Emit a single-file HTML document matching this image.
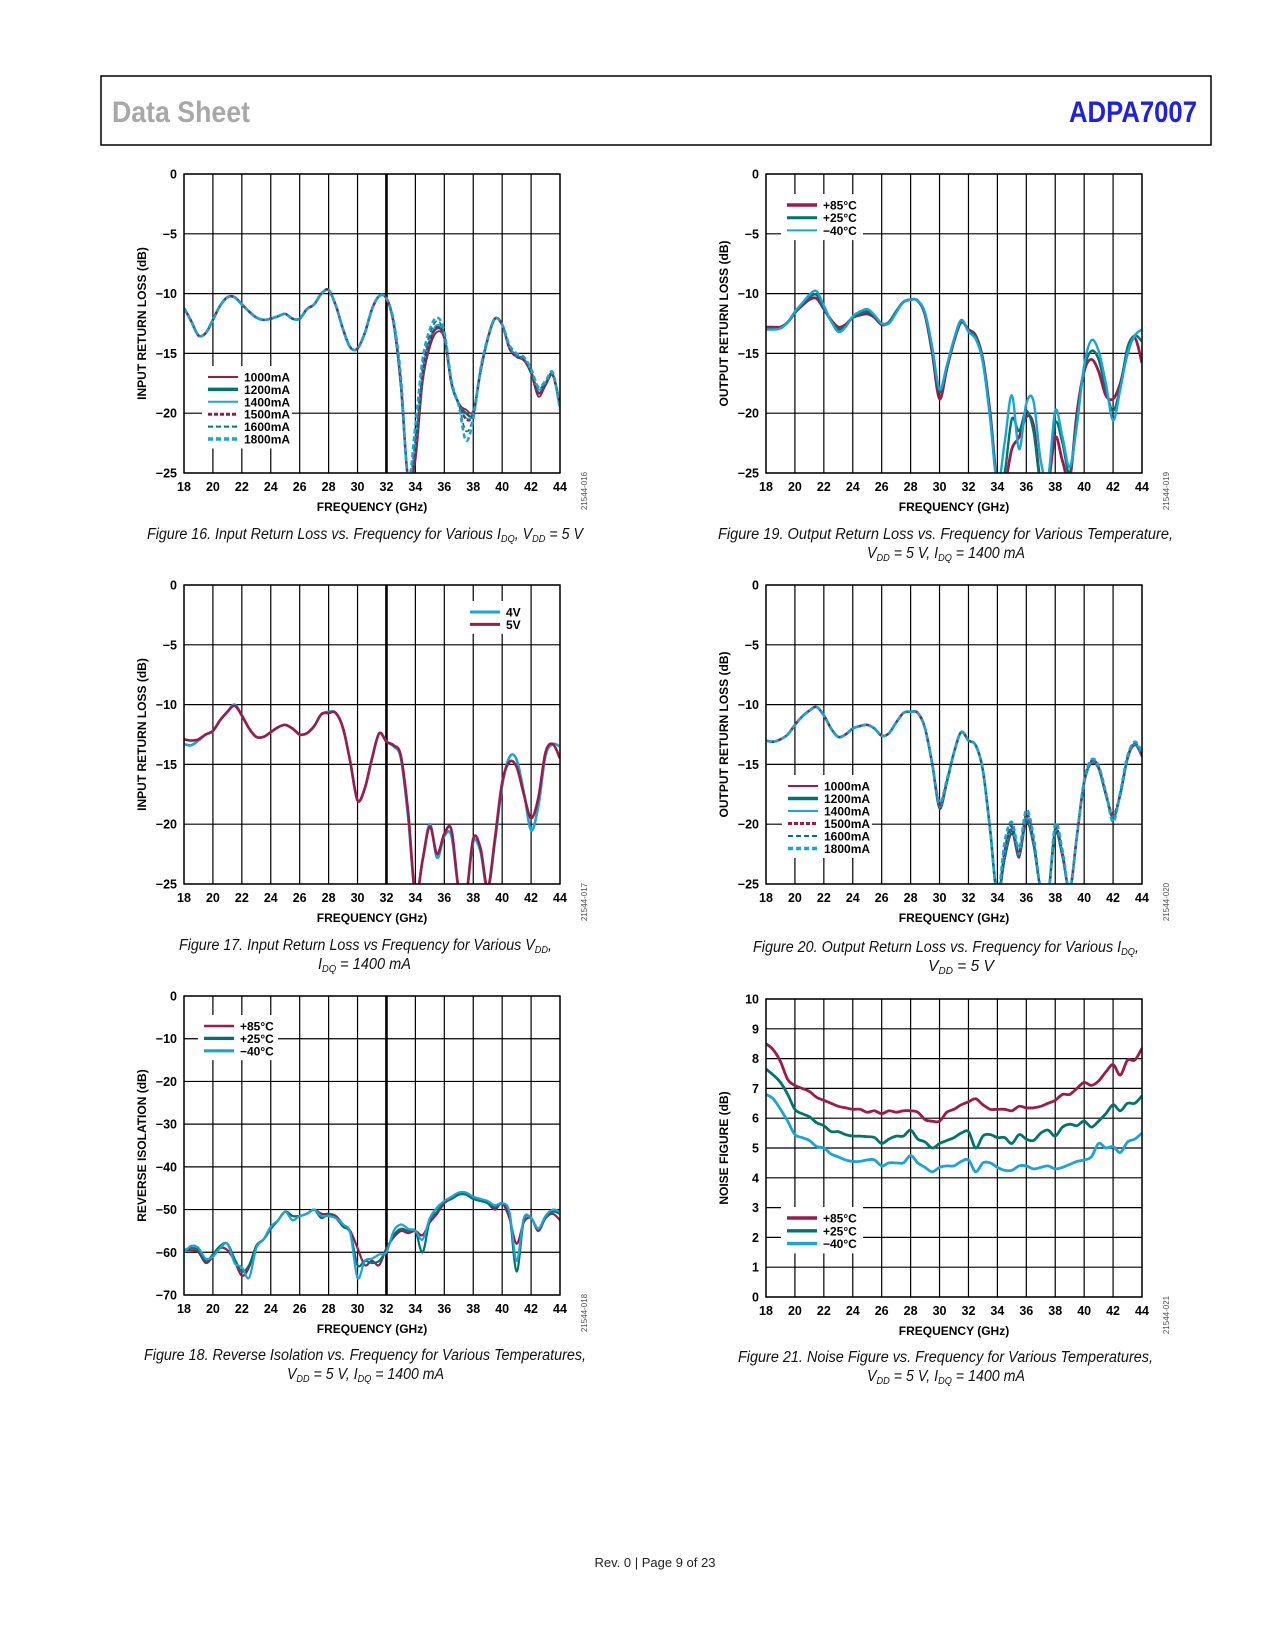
<!DOCTYPE html>
<html><head><meta charset="utf-8">
<style>
html,body{margin:0;padding:0;background:#fff;}
svg{display:block;font-family:"Liberation Sans",Arial,sans-serif;}
.tk{font-size:12.5px;font-weight:bold;fill:#000;}
.ax{font-size:12px;font-weight:bold;fill:#000;}
.lg{font-size:12px;font-weight:bold;fill:#000;}
.cap{font-size:15.5px;font-style:italic;fill:#111;}
.id{font-size:8px;fill:#555;}
</style></head>
<body>
<svg id="page" width="1275" height="1650" viewBox="0 0 1275 1650" xmlns="http://www.w3.org/2000/svg">
<rect x="101" y="76" width="1110" height="69" fill="none" stroke="#000" stroke-width="1.5"/>
<text x="112" y="122" font-size="30" font-weight="bold" fill="#a8a8a8" textLength="138" lengthAdjust="spacingAndGlyphs">Data Sheet</text>
<text x="1069" y="122" font-size="30" font-weight="bold" fill="#2020e0" textLength="128" lengthAdjust="spacingAndGlyphs">ADPA7007</text>
<text x="655" y="1567" font-size="13" text-anchor="middle" fill="#222">Rev. 0 | Page 9 of 23</text>

<text class="cap" x="147" y="539" textLength="436" lengthAdjust="spacingAndGlyphs">Figure 16. Input Return Loss vs. Frequency for Various I<tspan font-size="10" dy="3">DQ</tspan><tspan dy="-3">, V</tspan><tspan font-size="10" dy="3">DD</tspan><tspan dy="-3"> = 5 V</tspan></text>
<text class="cap" x="179" y="950" textLength="373" lengthAdjust="spacingAndGlyphs">Figure 17. Input Return Loss vs Frequency for Various V<tspan font-size="10" dy="3">DD</tspan><tspan dy="-3">,</tspan></text>
<text class="cap" x="318" y="969" textLength="93" lengthAdjust="spacingAndGlyphs">I<tspan font-size="10" dy="3">DQ</tspan><tspan dy="-3"> = 1400 mA</tspan></text>
<text class="cap" x="144" y="1360" textLength="442" lengthAdjust="spacingAndGlyphs">Figure 18. Reverse Isolation vs. Frequency for Various Temperatures,</text>
<text class="cap" x="287" y="1379" textLength="157" lengthAdjust="spacingAndGlyphs">V<tspan font-size="10" dy="3">DD</tspan><tspan dy="-3"> = 5 V, I</tspan><tspan font-size="10" dy="3">DQ</tspan><tspan dy="-3"> = 1400 mA</tspan></text>
<text class="cap" x="718" y="539" textLength="455" lengthAdjust="spacingAndGlyphs">Figure 19. Output Return Loss vs. Frequency for Various Temperature,</text>
<text class="cap" x="867" y="558" textLength="158" lengthAdjust="spacingAndGlyphs">V<tspan font-size="10" dy="3">DD</tspan><tspan dy="-3"> = 5 V, I</tspan><tspan font-size="10" dy="3">DQ</tspan><tspan dy="-3"> = 1400 mA</tspan></text>
<text class="cap" x="753" y="952" textLength="386" lengthAdjust="spacingAndGlyphs">Figure 20. Output Return Loss vs. Frequency for Various I<tspan font-size="10" dy="3">DQ</tspan><tspan dy="-3">,</tspan></text>
<text class="cap" x="961" y="971" text-anchor="middle">V<tspan font-size="10" dy="3">DD</tspan><tspan dy="-3"> = 5 V</tspan></text>
<text class="cap" x="738" y="1362" textLength="415" lengthAdjust="spacingAndGlyphs">Figure 21. Noise Figure vs. Frequency for Various Temperatures,</text>
<text class="cap" x="867" y="1381" textLength="158" lengthAdjust="spacingAndGlyphs">V<tspan font-size="10" dy="3">DD</tspan><tspan dy="-3"> = 5 V, I</tspan><tspan font-size="10" dy="3">DQ</tspan><tspan dy="-3"> = 1400 mA</tspan></text>
</svg>
<script>
const freqGHz = [18,18.5,19,19.5,20,20.5,21,21.5,22,22.5,23,23.5,24,24.5,25,25.5,26,26.5,27,27.5,28,28.5,29,29.5,30,30.5,31,31.5,32,32.5,33,33.5,34,34.5,35,35.5,36,36.5,37,37.5,38,38.5,39,39.5,40,40.5,41,41.5,42,42.5,43,43.5,44];
const xTickLabels = [18,20,22,24,26,28,30,32,34,36,38,40,42,44];

// Figure 16: input return loss vs IDQ
const inRL_1000mA = [-11.2,-12.3,-13.5,-13.3,-12.2,-11.0,-10.3,-10.3,-10.9,-11.5,-12.0,-12.2,-12.1,-11.9,-11.7,-12.1,-12.1,-11.3,-10.9,-10.0,-9.7,-11.0,-13.0,-14.5,-14.6,-13.3,-11.3,-10.2,-10.4,-12.6,-17.8,-25.5,-24.0,-17.5,-14.5,-13.2,-13.8,-17.6,-19.2,-19.7,-19.8,-16.6,-13.8,-12.1,-12.6,-14.6,-15.3,-15.6,-16.7,-18.6,-17.7,-16.8,-19.3];
const inRL_1200mA = [-11.2,-12.3,-13.5,-13.3,-12.2,-11.0,-10.3,-10.3,-10.9,-11.5,-12.0,-12.2,-12.1,-11.9,-11.7,-12.1,-12.1,-11.3,-10.9,-10.0,-9.7,-11.0,-13.0,-14.5,-14.6,-13.3,-11.3,-10.2,-10.4,-12.5,-17.6,-25.5,-23.0,-17.0,-14.0,-12.9,-13.6,-17.5,-19.2,-20.0,-20.0,-16.5,-13.8,-12.1,-12.6,-14.5,-15.2,-15.5,-16.6,-18.3,-17.6,-16.8,-19.4];
const inRL_1400mA = [-11.2,-12.3,-13.5,-13.3,-12.2,-11.0,-10.3,-10.3,-10.9,-11.5,-12.0,-12.2,-12.1,-11.9,-11.7,-12.1,-12.1,-11.3,-10.9,-10.0,-9.7,-11.0,-13.0,-14.5,-14.6,-13.3,-11.3,-10.2,-10.4,-12.5,-17.5,-25.5,-22.5,-16.5,-13.8,-12.6,-13.5,-17.5,-19.2,-20.4,-20.0,-16.5,-13.8,-12.1,-12.6,-14.5,-15.2,-15.5,-16.5,-18.0,-17.5,-16.8,-19.5];
const inRL_1500mA = [-11.2,-12.3,-13.5,-13.3,-12.2,-11.0,-10.3,-10.3,-10.9,-11.5,-12.0,-12.2,-12.1,-11.9,-11.7,-12.1,-12.1,-11.3,-10.9,-10.0,-9.7,-11.0,-13.0,-14.5,-14.6,-13.3,-11.3,-10.2,-10.4,-12.5,-17.5,-25.5,-23.5,-16.8,-14.0,-12.8,-13.6,-17.5,-19.2,-20.5,-20.1,-16.5,-13.8,-12.1,-12.6,-14.6,-15.3,-15.5,-16.6,-18.4,-17.6,-16.8,-19.4];
const inRL_1600mA = [-11.2,-12.3,-13.5,-13.3,-12.2,-11.0,-10.3,-10.3,-10.9,-11.5,-12.0,-12.2,-12.1,-11.9,-11.7,-12.1,-12.1,-11.3,-10.9,-10.0,-9.7,-11.0,-13.0,-14.5,-14.6,-13.3,-11.3,-10.2,-10.4,-12.4,-17.3,-25.5,-22.0,-16.0,-13.4,-12.3,-13.4,-17.4,-19.3,-21.5,-20.3,-16.4,-13.8,-12.1,-12.6,-14.4,-15.1,-15.4,-16.4,-17.9,-17.4,-16.7,-19.6];
const inRL_1800mA = [-11.2,-12.3,-13.5,-13.3,-12.2,-11.0,-10.3,-10.3,-10.9,-11.5,-12.0,-12.2,-12.1,-11.9,-11.7,-12.1,-12.1,-11.3,-10.9,-10.0,-9.7,-11.0,-13.0,-14.5,-14.6,-13.3,-11.3,-10.2,-10.4,-12.3,-17.0,-25.5,-21.0,-15.5,-13.0,-12.0,-13.2,-17.3,-19.4,-22.3,-20.5,-16.3,-13.7,-12.1,-12.6,-14.3,-15.0,-15.3,-16.3,-17.8,-17.3,-16.6,-19.7];

// Figure 17: input return loss vs VDD
const inRL_4V = [-13.3,-13.4,-13.0,-12.5,-12.2,-11.3,-10.6,-10.0,-10.9,-12.0,-12.7,-12.7,-12.3,-11.9,-11.7,-12.0,-12.5,-12.4,-11.8,-10.8,-10.6,-10.7,-12.0,-14.8,-18.0,-17.0,-14.5,-12.4,-13.1,-13.5,-14.5,-19.5,-26.0,-23.0,-20.0,-22.8,-21.0,-21.0,-25.5,-26.0,-21.5,-22.3,-25.5,-21.5,-16.8,-14.4,-14.6,-17.3,-20.5,-18.5,-14.3,-13.3,-13.5];
const inRL_5V = [-12.9,-13.0,-12.9,-12.5,-12.2,-11.3,-10.6,-10.1,-10.9,-12.0,-12.7,-12.7,-12.3,-11.9,-11.7,-12.0,-12.5,-12.4,-11.8,-10.8,-10.7,-10.7,-12.0,-14.8,-18.0,-17.0,-14.5,-12.4,-13.1,-13.4,-14.3,-19.0,-26.0,-23.0,-20.2,-22.5,-20.8,-20.5,-25.5,-26.0,-21.2,-22.0,-25.3,-21.2,-16.5,-14.8,-15.2,-17.5,-19.5,-17.8,-14.0,-13.3,-14.5];

// Figure 18: reverse isolation vs temperature
const revIso_p85 = [-59.5,-59.5,-60,-62.5,-61,-59,-59.5,-62,-65.5,-63.5,-58.5,-57,-54.5,-52.5,-50.5,-51.5,-51.5,-51,-50,-51,-51,-51.5,-53.5,-55,-59,-63,-62,-63,-59,-56.5,-55,-55.5,-55,-56,-53,-51,-48.5,-47.5,-46.5,-46.5,-47.5,-47.5,-48.5,-50,-48.5,-52,-58,-53,-52,-55,-52,-51,-52.5];
const revIso_p25 = [-59.5,-59,-59.5,-62,-60.5,-58.5,-58,-61.5,-64.5,-63,-58.5,-57,-54.5,-52.5,-50.5,-51.5,-51.5,-51,-50,-52,-51,-52,-54,-55.5,-63,-62,-62.5,-62,-59.5,-56,-54.5,-55,-55,-60,-52.5,-50.5,-48,-47.5,-46.5,-46.5,-47.5,-48,-48.5,-49.5,-48.5,-51,-64.5,-52.5,-52,-54.5,-52,-50.5,-51];
const revIso_m40 = [-60,-58.5,-59,-61.5,-61,-59,-58,-62.5,-63.5,-66,-59,-57,-54,-52.5,-50.5,-52.5,-51.5,-51,-50,-51.5,-51.5,-52,-53.5,-55.5,-66,-62,-61.5,-60.5,-60,-55,-53.5,-54.5,-55,-57,-52,-49.5,-48,-47,-46,-46,-47,-47.5,-48,-49,-48.5,-50.5,-62,-52,-52,-54.5,-51.5,-50,-50.5];

// Figure 19: output return loss vs temperature
const outRL_p85 = [-12.8,-12.8,-12.8,-12.4,-11.6,-11.0,-10.5,-10.4,-11.3,-12.2,-12.8,-12.6,-12.0,-11.8,-11.7,-12.0,-12.6,-12.4,-11.5,-10.7,-10.5,-10.6,-11.8,-15.0,-18.8,-16.3,-14.0,-12.4,-13.0,-13.5,-15.5,-20.0,-26.0,-26.0,-23.0,-22.0,-20.3,-21.0,-26.0,-26.0,-22.0,-24.0,-25.5,-20.0,-16.5,-15.5,-16.5,-18.5,-18.8,-17.5,-15.0,-13.7,-15.8];
const outRL_p25 = [-12.9,-12.9,-12.9,-12.4,-11.6,-10.9,-10.3,-10.1,-11.2,-12.3,-13.0,-12.7,-12.0,-11.7,-11.5,-11.9,-12.5,-12.4,-11.5,-10.7,-10.5,-10.6,-11.7,-14.7,-18.2,-16.1,-13.9,-12.3,-13.1,-13.6,-15.6,-20.2,-26.0,-25.0,-20.5,-21.5,-19.8,-21.5,-26.0,-25.5,-20.8,-22.5,-25.0,-20.5,-16.3,-14.8,-15.5,-18.0,-19.8,-17.8,-14.5,-13.5,-14.0];
const outRL_m40 = [-13.0,-13.0,-12.9,-12.4,-11.5,-10.8,-10.1,-9.8,-11.0,-12.3,-13.2,-12.8,-11.9,-11.5,-11.3,-11.8,-12.5,-12.5,-11.6,-10.7,-10.5,-10.6,-11.6,-14.5,-18.0,-16.0,-13.8,-12.2,-13.2,-13.8,-15.8,-20.5,-26.0,-22.5,-18.5,-23.0,-19.2,-19.0,-24.0,-25.5,-19.8,-22.0,-24.5,-21.0,-16.0,-13.9,-14.8,-17.5,-20.6,-18.0,-15.0,-13.5,-13.0];

// Figure 20: output return loss vs IDQ
const outRL_1000mA = [-13.0,-13.1,-12.9,-12.5,-11.7,-11.0,-10.5,-10.2,-10.9,-12.0,-12.7,-12.5,-12.0,-11.8,-11.7,-12.0,-12.6,-12.4,-11.5,-10.7,-10.6,-10.7,-12.0,-15.0,-18.7,-16.6,-14.0,-12.3,-13.0,-13.4,-15.5,-20.5,-26.0,-23.0,-20.8,-22.8,-19.8,-21.8,-25.5,-26.0,-20.8,-22.8,-25.5,-21.0,-16.6,-14.9,-15.4,-17.6,-19.5,-17.6,-14.6,-13.4,-14.4];
const outRL_1200mA = [-13.0,-13.1,-12.9,-12.5,-11.7,-11.0,-10.5,-10.2,-10.9,-12.0,-12.7,-12.5,-12.0,-11.8,-11.7,-12.0,-12.6,-12.4,-11.5,-10.7,-10.6,-10.7,-12.0,-15.0,-18.6,-16.5,-14.0,-12.3,-13.0,-13.4,-15.5,-20.5,-26.0,-22.8,-20.5,-22.6,-19.6,-21.6,-25.5,-26.0,-20.6,-22.6,-25.5,-21.0,-16.5,-14.8,-15.3,-17.5,-19.4,-17.5,-14.5,-13.3,-14.3];
const outRL_1400mA = [-13.0,-13.1,-12.9,-12.5,-11.7,-11.0,-10.5,-10.2,-10.9,-12.0,-12.7,-12.5,-12.0,-11.8,-11.7,-12.0,-12.6,-12.4,-11.5,-10.7,-10.6,-10.7,-12.0,-15.0,-18.5,-16.5,-14.0,-12.3,-13.0,-13.4,-15.5,-20.5,-26.0,-22.5,-20.3,-22.5,-19.5,-21.5,-25.5,-26.0,-20.5,-22.5,-25.5,-21.0,-16.5,-14.8,-15.3,-17.5,-19.3,-17.5,-14.5,-13.3,-14.3];
const outRL_1500mA = [-13.0,-13.1,-12.9,-12.5,-11.7,-11.0,-10.5,-10.2,-10.9,-12.0,-12.7,-12.5,-12.0,-11.8,-11.7,-12.0,-12.6,-12.4,-11.5,-10.7,-10.6,-10.7,-12.0,-15.0,-18.4,-16.4,-14.0,-12.3,-13.0,-13.4,-15.5,-20.5,-26.0,-22.3,-20.2,-22.4,-19.3,-21.4,-25.5,-26.0,-20.4,-22.4,-25.5,-21.0,-16.4,-14.7,-15.2,-17.4,-19.2,-17.4,-14.4,-13.2,-14.2];
const outRL_1600mA = [-13.0,-13.1,-12.9,-12.5,-11.7,-11.0,-10.5,-10.2,-10.9,-12.0,-12.7,-12.5,-12.0,-11.8,-11.7,-12.0,-12.6,-12.4,-11.5,-10.7,-10.6,-10.7,-12.0,-15.0,-18.3,-16.4,-14.0,-12.3,-13.0,-13.4,-15.5,-20.5,-26.0,-22.0,-20.0,-22.2,-19.0,-21.2,-25.5,-26.0,-20.2,-22.3,-25.5,-21.0,-16.4,-14.7,-15.2,-17.4,-19.6,-17.4,-14.4,-13.2,-14.1];
const outRL_1800mA = [-13.0,-13.1,-12.9,-12.5,-11.7,-11.0,-10.5,-10.2,-10.9,-12.0,-12.7,-12.5,-12.0,-11.8,-11.7,-12.0,-12.6,-12.4,-11.5,-10.7,-10.6,-10.7,-12.0,-15.0,-18.2,-16.3,-14.0,-12.3,-13.0,-13.4,-15.5,-20.5,-26.0,-21.5,-19.8,-22.0,-18.8,-21.0,-25.5,-26.0,-20.0,-22.2,-25.5,-21.0,-16.3,-14.6,-15.1,-17.3,-19.8,-17.3,-14.3,-13.1,-14.0];

// Figure 21: noise figure vs temperature
const nf_p85 = [8.5,8.3,7.9,7.3,7.1,7.0,6.9,6.7,6.6,6.5,6.4,6.35,6.3,6.3,6.2,6.25,6.15,6.25,6.2,6.25,6.25,6.2,5.95,5.9,5.9,6.2,6.3,6.45,6.55,6.65,6.45,6.3,6.3,6.3,6.25,6.4,6.35,6.35,6.4,6.5,6.6,6.8,6.8,7.0,7.2,7.1,7.25,7.55,7.8,7.45,7.95,7.95,8.35];
const nf_p25 = [7.65,7.45,7.2,6.8,6.3,6.15,6.05,5.85,5.75,5.55,5.55,5.45,5.4,5.4,5.38,5.35,5.15,5.3,5.4,5.4,5.6,5.3,5.2,5.0,5.15,5.25,5.35,5.5,5.55,5.0,5.4,5.45,5.35,5.35,5.15,5.45,5.3,5.25,5.5,5.6,5.4,5.7,5.8,5.75,5.9,5.7,5.9,6.15,6.45,6.25,6.5,6.5,6.75];
const nf_m40 = [6.8,6.65,6.3,5.9,5.45,5.35,5.25,5.05,5.0,4.8,4.7,4.6,4.55,4.55,4.6,4.6,4.4,4.5,4.5,4.5,4.75,4.5,4.35,4.2,4.35,4.4,4.4,4.55,4.6,4.2,4.5,4.5,4.35,4.25,4.25,4.4,4.4,4.3,4.35,4.4,4.3,4.35,4.45,4.55,4.6,4.7,5.15,5.0,5.05,4.85,5.2,5.3,5.5];

const yTicksRL = [0,-5,-10,-15,-20,-25];
const yTicksIso = [0,-10,-20,-30,-40,-50,-60,-70];
const yTicksNF = [0,1,2,3,4,5,6,7,8,9,10];

const MAROON = '#9b1c4b', TEAL = '#00756b', CYAN = '#1ba4d8';
const NS = 'http://www.w3.org/2000/svg';
const page = document.getElementById('page');

function mk(tag, attrs, parent) {
  const e = document.createElementNS(NS, tag);
  for (const k in attrs) e.setAttribute(k, attrs[k]);
  (parent || page).appendChild(e);
  return e;
}

function smoothPath(pts) {
  let d = 'M' + pts[0][0].toFixed(1) + ',' + pts[0][1].toFixed(1);
  for (let i = 0; i < pts.length - 1; i++) {
    const p0 = pts[i - 1] || pts[i], p1 = pts[i], p2 = pts[i + 1], p3 = pts[i + 2] || p2;
    const c1x = p1[0] + (p2[0] - p0[0]) / 6, c1y = p1[1] + (p2[1] - p0[1]) / 6;
    const c2x = p2[0] - (p3[0] - p1[0]) / 6, c2y = p2[1] - (p3[1] - p1[1]) / 6;
    d += ' C' + c1x.toFixed(1) + ',' + c1y.toFixed(1) + ' ' + c2x.toFixed(1) + ',' + c2y.toFixed(1) + ' ' + p2[0].toFixed(1) + ',' + p2[1].toFixed(1);
  }
  return d;
}

function drawChart(c) {
  const g = mk('g', {});
  
  
  const xs = v => c.x0 + (v - 18) / 26 * (c.x1 - c.x0);
  const ys = v => c.y0 + (c.ymax - v) / (c.ymax - c.ymin) * (c.y1 - c.y0);
  xTickLabels.forEach(t => {
    const l = mk('line', {x1: xs(t), x2: xs(t), y1: c.y0, y2: c.y1, stroke: '#000', 'stroke-width': (c.thick32 && t === 32) ? 2.6 : 1.2}, g);
    
    
    const tx = mk('text', {x: xs(t), y: c.y1 + 18, class: 'tk', 'text-anchor': 'middle'}, g);
    tx.textContent = t;
    
    
  });
  c.yticks.forEach(t => {
    const l = mk('line', {x1: c.x0, x2: c.x1, y1: ys(t), y2: ys(t), stroke: '#000', 'stroke-width': 1.2}, g);
    
    
    const tx = mk('text', {x: c.x0 - 7, y: ys(t) + 4.5, class: 'tk', 'text-anchor': 'end'}, g);
    tx.textContent = t < 0 ? '\u2212' + (-t) : String(t);
    
    
  });
  const L = c.legend;
  const bg = mk('rect', {x: L.x - 6, y: L.y - 11, width: L.w, height: c.series.length * L.dy + 8, fill: '#fff'}, g);
  
  
  const clipId = c.name + '-clip';
  const cp = mk('clipPath', {id: clipId}, g);
  mk('rect', {x: c.x0, y: c.y0, width: c.x1 - c.x0, height: c.y1 - c.y0}, cp);
  c.series.forEach((s, i) => {
    const pts = freqGHz.map((f, j) => [xs(f), ys(s.data[j])]);
    const p = mk('path', {d: smoothPath(pts), fill: 'none', stroke: s.color, 'stroke-width': s.w || 2.4, 'stroke-linejoin': 'round', 'clip-path': 'url(#' + clipId + ')'}, g);
    if (s.dash) p.setAttribute('stroke-dasharray', s.dash);
    
    
    const ly = L.y + i * L.dy;
    const ll = mk('line', {x1: L.x, x2: L.x + 30, y1: ly, y2: ly, stroke: s.color, 'stroke-width': s.lw || 3}, g);
    if (s.dash) ll.setAttribute('stroke-dasharray', s.dash);
    
    
    const lt = mk('text', {x: L.x + 36, y: ly + 4.5, class: 'lg'}, g);
    lt.textContent = s.label;
    
    
  });
  const fr = mk('rect', {x: c.x0, y: c.y0, width: c.x1 - c.x0, height: c.y1 - c.y0, fill: 'none', stroke: '#000', 'stroke-width': 1.4}, g);
  
  
  const xt = mk('text', {x: (c.x0 + c.x1) / 2, y: c.y1 + 38, class: 'ax', 'text-anchor': 'middle'}, g);
  xt.textContent = 'FREQUENCY (GHz)';
  
  
  const yc = (c.y0 + c.y1) / 2, yx = c.x0 - 38;
  const yt = mk('text', {x: yx, y: yc, class: 'ax', 'text-anchor': 'middle', transform: 'rotate(-90 ' + yx + ' ' + yc + ')'}, g);
  yt.textContent = c.ytitle;
  
  
  const ix = c.x1 + 27, iy = c.y1 + 18;
  const id = mk('text', {x: ix, y: iy, class: 'id', 'text-anchor': 'middle', transform: 'rotate(-90 ' + ix + ' ' + iy + ')'}, g);
  id.textContent = c.code;
  
  
}

const idqStyles = (a) => [
  {label: '1000mA', data: a[0], color: MAROON, w: 1.8, lw: 2},
  {label: '1200mA', data: a[1], color: TEAL, w: 2.6, lw: 3.5},
  {label: '1400mA', data: a[2], color: CYAN, w: 1.8, lw: 2},
  {label: '1500mA', data: a[3], color: MAROON, w: 2.2, lw: 3, dash: '4,2'},
  {label: '1600mA', data: a[4], color: TEAL, w: 1.6, lw: 2, dash: '5,3'},
  {label: '1800mA', data: a[5], color: CYAN, w: 2.6, lw: 3.5, dash: '5,3'}
];

drawChart({name: 'figure-16-chart', x0: 184, x1: 560, y0: 174, y1: 473, ymin: -25, ymax: 0, yticks: yTicksRL, thick32: true,
  ytitle: 'INPUT RETURN LOSS (dB)', code: '21544-016', legend: {x: 208, y: 377, dy: 12.4, w: 90},
  series: idqStyles([inRL_1000mA, inRL_1200mA, inRL_1400mA, inRL_1500mA, inRL_1600mA, inRL_1800mA])});

drawChart({name: 'figure-17-chart', x0: 184, x1: 560, y0: 585, y1: 884, ymin: -25, ymax: 0, yticks: yTicksRL, thick32: true,
  ytitle: 'INPUT RETURN LOSS (dB)', code: '21544-017', legend: {x: 470, y: 612, dy: 12.4, w: 66},
  series: [{label: '4V', data: inRL_4V, color: CYAN, w: 2.6}, {label: '5V', data: inRL_5V, color: MAROON, w: 2.6}]});

drawChart({name: 'figure-18-chart', x0: 184, x1: 560, y0: 996, y1: 1295, ymin: -70, ymax: 0, yticks: yTicksIso, thick32: true,
  ytitle: 'REVERSE ISOLATION (dB)', code: '21544-018', legend: {x: 204, y: 1026, dy: 12.4, w: 80},
  series: [{label: '+85°C', data: revIso_p85, color: MAROON, w: 2.2, lw: 2.4}, {label: '+25°C', data: revIso_p25, color: TEAL, w: 2.2, lw: 3.2}, {label: '\u221240°C', data: revIso_m40, color: CYAN, w: 2.2, lw: 3.2}]});

drawChart({name: 'figure-19-chart', x0: 766, x1: 1142, y0: 174, y1: 473, ymin: -25, ymax: 0, yticks: yTicksRL, thick32: false,
  ytitle: 'OUTPUT RETURN LOSS (dB)', code: '21544-019', legend: {x: 787, y: 205, dy: 12.7, w: 82},
  series: [{label: '+85°C', data: outRL_p85, color: MAROON, w: 2.8, lw: 3.4}, {label: '+25°C', data: outRL_p25, color: TEAL, w: 2.4, lw: 3}, {label: '\u221240°C', data: outRL_m40, color: CYAN, w: 2.4, lw: 2}]});

drawChart({name: 'figure-20-chart', x0: 766, x1: 1142, y0: 585, y1: 884, ymin: -25, ymax: 0, yticks: yTicksRL, thick32: false,
  ytitle: 'OUTPUT RETURN LOSS (dB)', code: '21544-020', legend: {x: 788, y: 786, dy: 12.5, w: 90},
  series: idqStyles([outRL_1000mA, outRL_1200mA, outRL_1400mA, outRL_1500mA, outRL_1600mA, outRL_1800mA])});

drawChart({name: 'figure-21-chart', x0: 766, x1: 1142, y0: 999, y1: 1297, ymin: 0, ymax: 10, yticks: yTicksNF, thick32: false,
  ytitle: 'NOISE FIGURE (dB)', code: '21544-021', legend: {x: 787, y: 1218, dy: 12.8, w: 82},
  series: [{label: '+85°C', data: nf_p85, color: MAROON, w: 2.8, lw: 3.4}, {label: '+25°C', data: nf_p25, color: TEAL, w: 2.8, lw: 3.4}, {label: '\u221240°C', data: nf_m40, color: CYAN, w: 2.8, lw: 3.4}]});
</script>
</body></html>
